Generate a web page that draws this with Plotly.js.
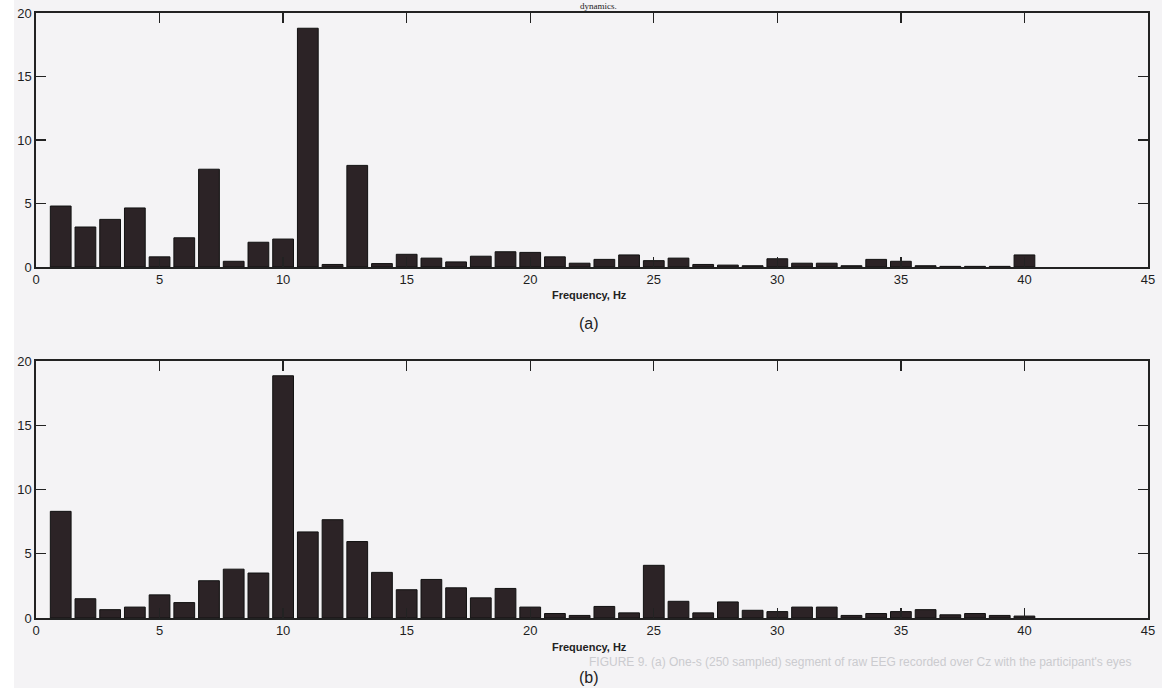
<!DOCTYPE html>
<html>
<head>
<meta charset="utf-8">
<script src="https://cdn.plot.ly/plotly-3.0.1.min.js"></script>
<style>
html,body{margin:0;padding:0;background:#ffffff;}
#chart{width:1162px;height:688px;}
</style>
</head>
<body>
<div id="chart"></div>
<script>
// Frequency bins (Hz)
const freqs = [];
for (let i = 1; i <= 40; i++) freqs.push(i);

// Panel (a) values
const valuesA = [4.8, 3.15, 3.75, 4.65, 0.8, 2.3, 7.7, 0.45, 1.95, 2.2,
                 18.8, 0.2, 8.0, 0.27, 1.0, 0.7, 0.4, 0.85, 1.2, 1.15,
                 0.8, 0.3, 0.6, 0.95, 0.5, 0.7, 0.2, 0.15, 0.1, 0.65,
                 0.3, 0.3, 0.1, 0.6, 0.45, 0.1, 0.05, 0.05, 0.05, 0.95];

// Panel (b) values
const valuesB = [8.3, 1.5, 0.65, 0.85, 1.8, 1.2, 2.9, 3.8, 3.5, 18.85,
                 6.7, 7.65, 5.95, 3.55, 2.2, 3.0, 2.35, 1.57, 2.3, 0.85,
                 0.35, 0.2, 0.9, 0.4, 4.1, 1.3, 0.4, 1.25, 0.6, 0.5,
                 0.85, 0.85, 0.2, 0.35, 0.5, 0.65, 0.25, 0.35, 0.2, 0.15];

const xTicks = [0, 5, 10, 15, 20, 25, 30, 35, 40, 45];
const yTicks = [0, 5, 10, 15, 20];
const xLabel = "Frequency, Hz";
const panelLabels = ["(a)", "(b)"];
const topText = "dynamics.";
const ghostCaption = "FIGURE 9. (a) One-s (250 sampled) segment of raw EEG recorded over Cz with the participant's eyes";

const W = 1162, H = 688;
const px = v => v / W;
const py = v => 1 - v / H;

const barColor = '#2c2326';
const traces = [
  {type: 'bar', x: freqs, y: valuesA, xaxis: 'x', yaxis: 'y', width: 0.84,
   marker: {color: barColor, line: {color: '#111', width: 1}}, hoverinfo: 'x+y'},
  {type: 'bar', x: freqs, y: valuesB, xaxis: 'x2', yaxis: 'y2', width: 0.84,
   marker: {color: barColor, line: {color: '#111', width: 1}}, hoverinfo: 'x+y'}
];

const tickFont = {family: 'Liberation Sans, Arial, sans-serif', size: 13, color: '#1e1e1e'};
const axX = (dom, anchor) => ({
  domain: dom, anchor: anchor, range: [0, 45], tickvals: xTicks,
  ticktext: xTicks.map(String),
  ticks: 'inside', ticklen: 10, tickwidth: 1.3, tickcolor: '#222',
  showline: true, linecolor: '#222', linewidth: 1.6, mirror: 'allticks',
  showgrid: false, zeroline: false, fixedrange: true,
  tickfont: tickFont
});
const axY = (dom, anchor) => ({
  domain: dom, anchor: anchor, range: [0, 20], tickvals: yTicks,
  ticktext: yTicks.map(String),
  ticks: 'inside', ticklen: 10, tickwidth: 1.3, tickcolor: '#222',
  showline: true, linecolor: '#222', linewidth: 1.6, mirror: 'allticks',
  showgrid: false, zeroline: false, fixedrange: true,
  tickfont: tickFont
});

const xDom = [px(36), px(1148)];
const layout = {
  width: W, height: H,
  margin: {l: 0, r: 0, t: 0, b: 0},
  paper_bgcolor: '#f4f3f5',
  plot_bgcolor: 'rgba(0,0,0,0)',
  showlegend: false,
  xaxis: axX(xDom, 'y'),
  yaxis: axY([py(267), py(13)], 'x'),
  xaxis2: axX(xDom, 'y2'),
  yaxis2: axY([py(618), py(361)], 'x2'),
  shapes: [
    {type: 'rect', xref: 'paper', yref: 'paper', x0: 0, x1: px(14), y0: 0, y1: 1,
     fillcolor: '#ffffff', line: {width: 0}, layer: 'below'}
  ],
  annotations: [
    {text: xLabel, xref: 'paper', yref: 'paper', x: px(589), y: py(295),
     xanchor: 'center', yanchor: 'middle', showarrow: false,
     font: {family: 'Liberation Sans, Arial, sans-serif', size: 11, color: '#222', weight: 'bold'}},
    {text: panelLabels[0], xref: 'paper', yref: 'paper', x: px(589), y: py(323),
     xanchor: 'center', yanchor: 'middle', showarrow: false,
     font: {family: 'Liberation Sans, Arial, sans-serif', size: 16, color: '#222'}},
    {text: xLabel, xref: 'paper', yref: 'paper', x: px(589), y: py(647),
     xanchor: 'center', yanchor: 'middle', showarrow: false,
     font: {family: 'Liberation Sans, Arial, sans-serif', size: 11, color: '#222', weight: 'bold'}},
    {text: ghostCaption, xref: 'paper', yref: 'paper', x: px(860), y: py(662),
     xanchor: 'center', yanchor: 'middle', showarrow: false,
     font: {family: 'Liberation Sans, Arial, sans-serif', size: 12, color: '#cbcbcf'}},
    {text: panelLabels[1], xref: 'paper', yref: 'paper', x: px(589), y: py(677),
     xanchor: 'center', yanchor: 'middle', showarrow: false,
     font: {family: 'Liberation Sans, Arial, sans-serif', size: 16, color: '#222'}},
    {text: topText, xref: 'paper', yref: 'paper', x: px(598), y: 1,
     xanchor: 'center', yanchor: 'top', showarrow: false, borderpad: 0,
     font: {family: 'Liberation Serif, Times New Roman, serif', size: 9, color: '#222'}}
  ]
};

Plotly.newPlot('chart', traces, layout, {displayModeBar: false, staticPlot: true});
</script>
</body>
</html>
